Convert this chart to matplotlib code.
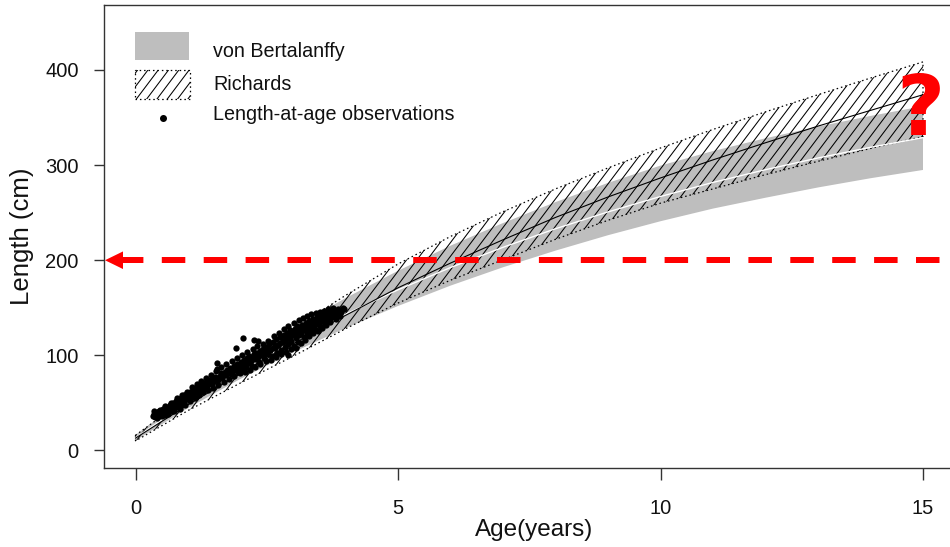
import numpy as np
import matplotlib
matplotlib.use("Agg")
import matplotlib.pyplot as plt
from matplotlib.patches import Polygon, Rectangle
from matplotlib.collections import LineCollection

plt.rcParams["font.family"] = ["Liberation Sans", "DejaVu Sans"]
plt.rcParams["lines.scale_dashes"] = False

# ---------------- data ----------------
ages = list(range(16))

# von Bertalanffy fit: mean curve and confidence band (cm)
vb_mean = [13.4, 50.5, 84.3, 115.1, 143.2, 168.9, 192.3, 213.6, 233.1, 250.8,
           267.0, 281.8, 295.2, 307.5, 318.7, 328.9]
vb_upper = [16.4, 57.0, 94.3, 128.6, 160.2, 188.9, 215.3, 239.1, 261.1, 281.3,
            299.5, 314.8, 328.2, 340.5, 351.7, 361.9]
vb_lower = [10.4, 44.5, 75.3, 103.1, 128.7, 151.9, 173.3, 192.6, 210.1, 226.3,
            241.0, 254.3, 265.7, 276.5, 286.2, 294.9]

# Richards fit: mean curve and confidence band (cm)
rich_mean = [13.0, 48.0, 81.0, 112.0, 142.0, 171.0, 197.0, 221.5, 245.0, 266.5,
             286.5, 305.5, 323.5, 341.0, 357.5, 374.0]
rich_upper = [16.0, 56.0, 93.0, 128.0, 163.0, 196.0, 225.0, 251.0, 275.0, 297.0,
              318.0, 337.5, 356.0, 374.0, 391.5, 408.5]
rich_lower = [10.0, 42.0, 71.0, 99.0, 128.0, 155.0, 179.0, 200.5, 222.0, 242.0,
              260.0, 275.0, 290.0, 304.0, 317.5, 330.0]

# length-at-age observations
obs_age = [
    0.33, 0.36, 0.38, 0.40, 0.42, 0.44, 0.45, 0.47, 0.48, 0.50,
    0.52, 0.53, 0.55, 0.56, 0.58, 0.60, 0.61, 0.63, 0.64, 0.66, 0.67, 0.69, 0.70,
    0.72, 0.73, 0.75, 0.77, 0.78, 0.80, 0.82, 0.83, 0.85, 0.87, 0.88, 0.90, 0.92,
    0.93, 0.95, 0.97, 0.98, 1.00,
    1.02, 1.04, 1.05, 1.07, 1.09, 1.10, 1.12, 1.14, 1.16, 1.18, 1.20, 1.22, 1.24,
    1.26, 1.28, 1.30, 1.33, 1.35, 1.37, 1.40, 1.42, 1.45, 1.47, 1.50,
    1.52, 1.55, 1.55, 1.57, 1.60, 1.62, 1.65, 1.67, 1.70, 1.72, 1.75, 1.77, 1.80,
    1.82, 1.85, 1.87, 1.90, 1.92, 1.93, 1.95, 1.97, 2.00,
    2.02, 2.04, 2.05, 2.07, 2.10, 2.12, 2.15, 2.17, 2.20, 2.22, 2.25, 2.25, 2.28,
    2.30, 2.33, 2.33, 2.35, 2.38, 2.40, 2.42, 2.45, 2.47, 2.50,
    2.52, 2.55, 2.57, 2.60, 2.62, 2.65, 2.67, 2.70, 2.72, 2.75, 2.77, 2.80, 2.82,
    2.85, 2.87, 2.88, 2.90, 2.90, 2.93, 2.95, 2.97, 3.00,
    3.02, 3.03, 3.05, 3.07, 3.08, 3.10, 3.12, 3.14, 3.16, 3.18, 3.20, 3.22, 3.24,
    3.26, 3.28, 3.30, 3.32, 3.34, 3.36, 3.38, 3.40, 3.42, 3.44, 3.46, 3.48, 3.50,
    3.52, 3.54, 3.56, 3.58, 3.60, 3.62, 3.64, 3.66, 3.68, 3.70, 3.72, 3.75, 3.78,
    3.80, 3.84, 3.88, 3.92, 3.98,
    0.35, 0.41, 0.46, 0.51, 0.57, 0.62, 0.68, 0.74, 0.79, 0.84, 0.89, 0.94, 0.99,
    1.03, 1.08, 1.13, 1.17, 1.21, 1.25, 1.29, 1.34, 1.38, 1.43, 1.48,
    1.53, 1.58, 1.63, 1.68, 1.73, 1.78, 1.83, 1.88, 1.94, 1.99,
    2.03, 2.08, 2.13, 2.18, 2.23, 2.27, 2.32, 2.37, 2.43, 2.48,
    2.53, 2.58, 2.63, 2.68, 2.73, 2.78, 2.83, 2.86, 2.91, 2.96,
    3.01, 3.06, 3.11, 3.15, 3.19, 3.23, 3.27, 3.31, 3.35, 3.39, 3.43, 3.47,
    3.51, 3.55, 3.59, 3.63, 3.67, 3.71, 3.76, 3.81, 3.86, 3.90, 3.95,
    0.37, 0.43, 0.49, 0.54, 0.59, 0.65, 0.71, 0.76, 0.81, 0.86, 0.91, 0.96,
    1.01, 1.06, 1.11, 1.15, 1.19, 1.23, 1.27, 1.31, 1.36, 1.41, 1.46,
    1.51, 1.56, 1.61, 1.66, 1.71, 1.76, 1.81, 1.86, 1.91, 1.96,
    2.01, 2.06, 2.11, 2.16, 2.21, 2.26, 2.31, 2.36, 2.41, 2.46,
    2.51, 2.56, 2.61, 2.66, 2.71, 2.76, 2.81, 2.84, 2.89, 2.94, 2.99,
    3.04, 3.09, 3.13, 3.17, 3.21, 3.25, 3.29, 3.33, 3.37, 3.41, 3.45, 3.49,
    3.53, 3.57, 3.61, 3.65, 3.69, 3.73, 3.77, 3.82, 3.87,
]
obs_len = [
    36, 38, 35, 39, 37, 41, 36, 40, 38, 42,
    39, 44, 41, 37, 43, 45, 40, 46, 42, 48, 44, 41, 47,
    50, 45, 48, 52, 46, 50, 54, 49, 47, 53, 56, 51, 55,
    58, 53, 57, 60, 55,
    58, 62, 56, 60, 64, 59, 63, 61, 66, 62, 65, 68, 63,
    67, 70, 66, 69, 72, 68, 71, 74, 70, 75, 73,
    77, 92, 86, 74, 78, 81, 76, 80, 83, 79, 85, 82, 87,
    80, 84, 89, 86, 108, 91, 83, 88, 93,
    86, 118, 90, 95, 88, 97, 92, 99, 94, 89, 116, 101, 96,
    103, 115, 98, 93, 105, 100, 107, 97, 103, 109,
    101, 112, 106, 99, 114, 108, 117, 103, 111, 119, 106, 114, 121,
    109, 117, 124, 100, 112, 120, 127, 115, 123,
    110, 128, 118, 125, 131, 114, 121, 129, 124, 132, 119, 127, 134,
    123, 130, 136, 126, 133, 129, 138, 131, 135, 127, 140, 133, 137,
    131, 141, 136, 139, 133, 143, 137, 140, 145, 138, 142, 146, 140,
    144, 147, 143, 146, 148.5,
    41, 34, 43, 36, 47, 38, 50, 42, 55, 44, 58, 48, 62,
    52, 67, 55, 70, 58, 73, 61, 76, 64, 79, 66,
    84, 69, 88, 72, 91, 75, 94, 78, 97, 81,
    100, 82, 104, 85, 107, 88, 110, 91, 112, 94,
    115, 95, 120, 98, 124, 101, 128, 104, 131, 107,
    134, 108, 137, 113, 139, 116, 141, 120, 143, 123, 145, 126,
    146, 129, 147, 132, 149, 135, 150, 138, 149, 141, 150,
    39, 40, 41, 42, 44, 46, 46, 49, 51, 52, 54, 56,
    57, 59, 61, 62, 64, 65, 66, 68, 70, 71, 72,
    74, 76, 77, 79, 80, 82, 84, 85, 87, 88,
    90, 91, 93, 95, 96, 98, 99, 101, 102, 103,
    105, 106, 108, 110, 111, 113, 115, 116, 118, 119, 121,
    122, 124, 126, 127, 129, 130, 131, 133, 134, 136, 137, 138,
    139, 140, 141, 142, 143, 144, 144, 145, 146,
]

target_length = 200
x_ticks = [0, 5, 10, 15]
y_ticks = [0, 100, 200, 300, 400]
legend_labels = ["von Bertalanffy", "Richards", "Length-at-age observations"]

# ---------------- figure / axes geometry (pixels) ----------------
W, H, DPI = 950, 547, 100
PT = 72.0 / DPI  # points per pixel
AX_L, AX_R, AX_T, AX_B = 104.0, 954.5, 5.3, 467.6
XLIM, YLIM = (-0.6, 15.6), (-18.0, 468.0)

fig = plt.figure(figsize=(W / DPI, H / DPI), dpi=DPI)
ax = fig.add_axes([AX_L / W, 1 - AX_B / H, (AX_R - AX_L) / W, (AX_B - AX_T) / H])
ax.set_xlim(*XLIM)
ax.set_ylim(*YLIM)


def px2x(px):
    return XLIM[0] + (px - AX_L) / (AX_R - AX_L) * (XLIM[1] - XLIM[0])


def px2y(py):
    return YLIM[1] - (py - AX_T) / (AX_B - AX_T) * (YLIM[1] - YLIM[0])


def ax_frac(px, py):
    return ((px - AX_L) / (AX_R - AX_L), (AX_B - py) / (AX_B - AX_T))


def add_hatch(patch, spacing=10.3, angle=53.0, lw=0.75):
    """Diagonal shading lines, clipped to a patch already on the axes."""
    bb = ax.bbox
    dx_per_dy = 1.0 / np.tan(np.radians(angle))
    h = bb.y1 - bb.y0
    starts = np.arange(bb.x0 - h * dx_per_dy - spacing, bb.x1 + spacing, spacing)
    inv = ax.transData.inverted()
    segs = [inv.transform([(s, bb.y0), (s + h * dx_per_dy, bb.y1)]) for s in starts]
    lc = LineCollection(segs, colors="black", linewidths=lw, zorder=patch.get_zorder())
    ax.add_collection(lc)
    lc.set_clip_path(patch)
    return lc


DOTTED = (0, (1.1, 2.1))
GREY = "#bebebe"

# ---------------- bands ----------------
vb_poly = Polygon(list(zip(ages, vb_upper)) + list(zip(ages[::-1], vb_lower[::-1])),
                  closed=True, facecolor=GREY, edgecolor="none", zorder=1)
ax.add_patch(vb_poly)

rich_poly = Polygon(list(zip(ages, rich_upper)) + list(zip(ages[::-1], rich_lower[::-1])),
                    closed=True, facecolor="none", edgecolor="black",
                    linestyle=DOTTED, linewidth=0.9, zorder=2)
ax.add_patch(rich_poly)
add_hatch(rich_poly)

ax.plot(ages, vb_mean, color="white", lw=1.0, zorder=3)
ax.plot(ages, rich_mean, color="black", lw=0.8, zorder=3)

# ---------------- observations ----------------
ax.scatter(obs_age, obs_len, s=(6.3 * PT) ** 2, color="black", lw=0, zorder=4)

# ---------------- target length arrow ----------------
tip_px, head_len_px, head_half_px = 105.0, 18.0, 8.8
ax.plot([px2x(tip_px), 16.5], [target_length, target_length], color="red",
        lw=6 * PT, solid_capstyle="butt", dash_capstyle="butt",
        linestyle=(27 * PT, (23.5 * PT, 18.4 * PT)), zorder=5, clip_on=False)
yc = target_length
dy = head_half_px / (AX_B - AX_T) * (YLIM[1] - YLIM[0])
head = Polygon([(px2x(tip_px), yc),
                (px2x(tip_px + head_len_px), yc + dy),
                (px2x(tip_px + head_len_px), yc - dy)],
               closed=True, facecolor="red", edgecolor="none", zorder=5)
ax.add_patch(head)

ax.text(px2x(920), px2y(135), "?", color="red", fontsize=60, fontweight="bold",
        family="DejaVu Sans", ha="center", va="baseline", zorder=6)

# ---------------- legend ----------------
gx0, gy0 = ax_frac(135, 60)
gx1, gy1 = ax_frac(188.5, 31.7)
ax.add_patch(Rectangle((gx0, gy0), gx1 - gx0, gy1 - gy0, transform=ax.transAxes,
                       facecolor=GREY, edgecolor="none", zorder=6))
hx0, hy0 = ax_frac(135, 99)
hx1, hy1 = ax_frac(189.5, 70)
hbox = Rectangle((hx0, hy0), hx1 - hx0, hy1 - hy0, transform=ax.transAxes,
                 facecolor="white", edgecolor="black", linestyle=DOTTED,
                 linewidth=0.9, zorder=6)
ax.add_patch(hbox)
add_hatch(hbox).set_zorder(6)
dx, dyf = ax_frac(163.3, 118.3)
ax.scatter([dx], [dyf], s=(7 * PT) ** 2, color="black", lw=0,
           transform=ax.transAxes, zorder=6)
for label, base in zip(legend_labels, [56.7, 90.0, 120.0]):
    tx, ty = ax_frac(213, base)
    ax.text(tx, ty, label, transform=ax.transAxes, fontsize=14.2,
            ha="left", va="baseline", color="#111111", zorder=6)

# ---------------- axes styling ----------------
for side in ["left", "top", "bottom", "right"]:
    ax.spines[side].set_linewidth(1.0)
    ax.spines[side].set_color("#333333")
ax.set_xticks(x_ticks)
ax.set_yticks(y_ticks)
ax.set_yticklabels([str(v) for v in y_ticks])
ax.tick_params(axis="both", direction="out", width=1.0, colors="#333333",
               labelcolor="#111111", labelsize=14.5)
ax.tick_params(axis="y", length=10.5 * PT, pad=15 * PT)
ax.tick_params(axis="x", length=12 * PT, pad=19 * PT)

fig.text(22 / W, 1 - 236 / H, "Length (cm)", rotation=90, ha="center", va="center",
         fontsize=18.5, color="#111111")
fig.text(534 / W, 1 - 530 / H, "Age(years)", ha="center", va="center",
         fontsize=17.5, color="#111111")

fig.savefig("out.png", dpi=DPI)
